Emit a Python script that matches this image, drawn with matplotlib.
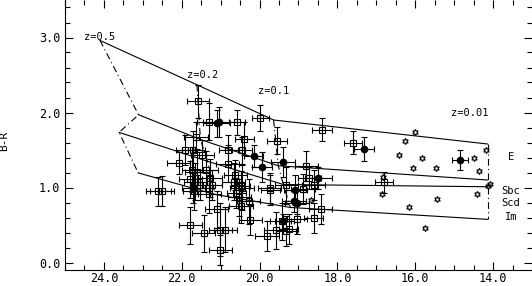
import matplotlib
matplotlib.use("Agg")
import matplotlib.pyplot as plt
import numpy as np

plt.rcParams['font.family'] = ['DejaVu Sans Mono']

# model tracks, vertices at z = 0.5, 0.2, 0.1, 0.01
z_labels = ['z=0.5', 'z=0.2', 'z=0.1', 'z=0.01']
E_mag = [24.10, 21.61, 19.64, 14.14]
E_col = [2.96, 2.37, 1.90, 1.58]
Sbc_mag = [23.11, 21.52, 19.52, 14.14]
Sbc_col = [1.97, 1.64, 1.29, 1.10]
Scd_mag = [23.61, 21.34, 19.39, 14.14]
Scd_col = [1.735, 1.35, 1.04, 1.01]
Im_mag = [23.12, 21.14, 19.21, 14.14]
Im_col = [1.195, 0.907, 0.734, 0.575]
track_names = ['E', 'Sbc', 'Scd', 'Im']
track_label_y = [1.40, 0.95, 0.80, 0.60]

# open squares
sq_mag = [22.60, 22.51, 22.08, 21.59, 21.31, 21.63, 21.91, 21.70, 21.47, 20.58,
          19.98, 18.39, 20.39, 19.55, 20.80, 20.45, 20.82, 21.74, 21.61, 21.78,
          21.65, 21.70, 20.67, 20.49, 19.74, 19.31, 18.80, 18.72, 18.61, 18.88,
          17.59, 16.80, 21.68, 20.48, 21.10, 20.24, 19.04, 18.61, 18.43, 19.42,
          19.25, 19.59, 19.81, 21.78, 21.44, 21.01, 20.88, 21.01, 20.28, 20.62,
          20.45, 19.72, 21.52, 21.37, 21.27, 21.22, 21.29, 20.52, 20.60, 19.32]
sq_col = [0.95, 0.95, 1.33, 2.15, 1.88, 1.67, 1.50, 1.50, 1.43, 1.87,
          1.93, 1.77, 1.65, 1.625, 1.50, 1.50, 1.32, 1.24, 1.21, 1.11,
          1.08, 0.99, 1.08, 1.02, 0.99, 1.03, 1.29, 1.13, 1.03, 0.98,
          1.60, 1.07, 0.95, 0.75, 0.71, 0.565, 0.575, 0.59, 0.71, 0.55,
          0.45, 0.43, 0.36, 0.495, 0.39, 0.44, 0.44, 0.17, 0.82, 1.17,
          1.00, 0.97, 1.04, 1.24, 1.13, 1.04, 0.91, 0.87, 0.93, 0.42]
sq_xerr = [0.33, 0.30, 0.30, 0.28, 0.30, 0.30, 0.25, 0.30, 0.30, 0.20,
           0.22, 0.26, 0.25, 0.26, 0.25, 0.25, 0.30, 0.25, 0.30, 0.30,
           0.30, 0.30, 0.30, 0.25, 0.30, 0.30, 0.30, 0.30, 0.30, 0.30,
           0.23, 0.23, 0.30, 0.30, 0.30, 0.30, 0.25, 0.25, 0.30, 0.30,
           0.25, 0.30, 0.30, 0.30, 0.30, 0.30, 0.30, 0.30, 0.30, 0.30,
           0.30, 0.25, 0.25, 0.30, 0.30, 0.25, 0.30, 0.30, 0.25, 0.25]
sq_yerr = [0.19, 0.20, 0.15, 0.22, 0.25, 0.20, 0.20, 0.25, 0.20, 0.17,
           0.17, 0.155, 0.22, 0.18, 0.20, 0.18, 0.25, 0.30, 0.30, 0.25,
           0.25, 0.20, 0.25, 0.20, 0.20, 0.25, 0.20, 0.15, 0.20, 0.20,
           0.15, 0.14, 0.25, 0.22, 0.25, 0.20, 0.20, 0.20, 0.20, 0.25,
           0.20, 0.25, 0.20, 0.25, 0.25, 0.35, 0.30, 0.20, 0.30, 0.20,
           0.30, 0.20, 0.20, 0.25, 0.25, 0.20, 0.25, 0.25, 0.20, 0.20]

# filled circles
fc_mag = [17.32, 14.85, 21.05, 21.10, 20.15, 19.94, 19.40, 18.49, 19.08, 19.12, 19.04, 19.40]
fc_col = [1.515, 1.37, 1.87, 1.86, 1.42, 1.27, 1.34, 1.13, 0.97, 0.82, 0.80, 0.55]
fc_xerr = [0.25, 0.21, 0.40, 0.35, 0.25, 0.25, 0.30, 0.35, 0.30, 0.30, 0.30, 0.20]
fc_yerr = [0.155, 0.13, 0.20, 0.18, 0.15, 0.20, 0.20, 0.15, 0.20, 0.15, 0.15, 0.10]

# local galaxies (no errors)
st_mag = [16.01, 16.27, 16.42, 15.83, 16.07, 15.47, 14.50, 14.36, 14.17, 16.82,
          14.08, 14.14, 16.85, 15.43, 14.42, 16.16, 15.76, 18.67]
st_col = [1.74, 1.625, 1.44, 1.395, 1.26, 1.26, 1.39, 1.22, 1.50, 1.14,
          1.05, 1.02, 0.92, 0.85, 0.907, 0.74, 0.46, 0.84]

fig = plt.figure(figsize=(5.32, 2.86), dpi=100)
ax = fig.add_axes([65 / 532, 16 / 286, 467 / 532, 270 / 286])

lw = 0.8
dashdot = (0, (6, 3, 1, 3))

tracks = [(E_mag, E_col), (Sbc_mag, Sbc_col), (Scd_mag, Scd_col), (Im_mag, Im_col)]
for m, c in tracks:
    ax.plot(m, c, color='k', lw=lw)
for i in range(len(z_labels)):
    ax.plot([t[0][i] for t in tracks], [t[1][i] for t in tracks],
            color='k', lw=lw, linestyle=dashdot)

ax.errorbar(sq_mag, sq_col, xerr=sq_xerr, yerr=sq_yerr, fmt='s', ms=4,
            mfc='none', mec='k', mew=0.8, ecolor='k', elinewidth=0.8,
            capsize=2.2, capthick=0.8)
ax.errorbar(fc_mag, fc_col, xerr=fc_xerr, yerr=fc_yerr, fmt='o', ms=4.5,
            mfc='k', mec='k', ecolor='k', elinewidth=0.8,
            capsize=2.2, capthick=0.8)
ax.plot(st_mag, st_col, linestyle='none', marker=(6, 1, 0), ms=4.5,
        mfc='none', mec='k', mew=0.8)

label_pos = [(24.5, 3.0), (21.86, 2.50), (20.03, 2.29), (15.09, 2.0)]
for txt, (x, y) in zip(z_labels, label_pos):
    ax.text(x, y, txt, fontsize=7.5, ha='left', va='center')
for name, y in zip(track_names, track_label_y):
    ax.text(13.54, y, name, fontsize=7.5, ha='center', va='center')

ax.set_xlim(25, 13)
ax.set_ylim(-0.1, 3.5)
ax.set_xticks([24, 22, 20, 18, 16, 14])
ax.set_xticklabels(['24.0', '22.0', '20.0', '18.0', '16.0', '14.0'])
ax.set_xticks(np.arange(13, 25.01, 0.5), minor=True)
ax.set_yticks([0, 1, 2, 3])
ax.set_yticklabels(['0.0', '1.0', '2.0', '3.0'])
ax.set_yticks(np.arange(-0.0, 3.51, 0.2), minor=True)
ax.tick_params(which='both', direction='in', top=True, right=True,
               labelsize=8.5, width=0.8)
ax.tick_params(axis='x', pad=1.5)
ax.tick_params(which='major', length=5.8)
ax.tick_params(which='minor', length=3.6)
ax.spines['top'].set_visible(False)
ax.spines['right'].set_visible(False)
for s in ['left', 'bottom']:
    ax.spines[s].set_linewidth(0.8)
ax.set_ylabel('B-R', fontsize=8)
ax.yaxis.set_label_coords(-0.12, 0.48)

fig.savefig('out.png', dpi=100)
